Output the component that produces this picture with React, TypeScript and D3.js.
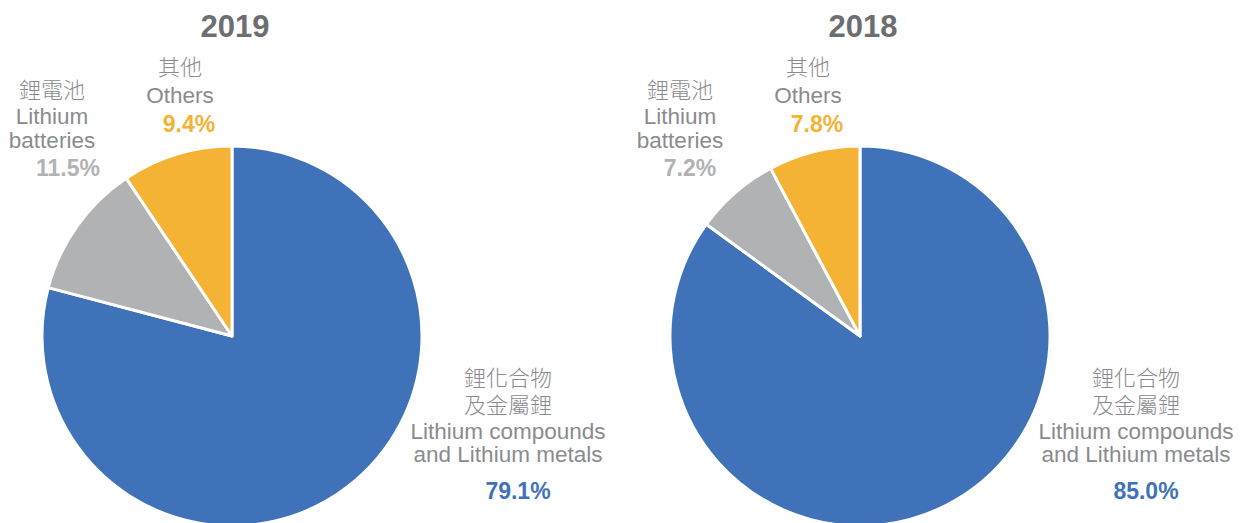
import React from 'react';
import * as d3 from 'd3';

// data
const years = ['2019', '2018'];
const categories = ['compounds', 'batteries', 'others'];
const shares2019 = [79.1, 11.5, 9.4];
const shares2018 = [85.0, 7.2, 7.8];
const labelZh = ['鋰化合物\n及金屬鋰', '鋰電池', '其他'];
const labelEn = ['Lithium compounds\nand Lithium metals', 'Lithium\nbatteries', 'Others'];

const colors = ['#3f72b8', '#b1b2b4', '#f4b335'];
const pctColors = ['#3f72b8', '#b1b2b4', '#f4b335'];
const labelGrey = '#8a8b8e';
const latin = '"Liberation Sans", Arial, Helvetica, sans-serif';
const cjk = '"Noto Sans CJK TC", "Noto Sans CJK SC", sans-serif';

const W = 1241;
const H = 523;
const R = 190;
const centers = [232, 860];
const cy = 336;

// label placement, offsets from each pie centre
const labelPos = [
  { dx: 276, lines: [386, 413, 439, 462], pct: { dx: 286, y: 499 } },
  { dx: -180, lines: [98, 124, 148], pct: { dx: -164, y: 176 } },
  { dx: -52, lines: [75, 103], pct: { dx: -43, y: 132 } },
];

const PieChart = ({ year, values, cx, idx }) => {
  const pie = d3.pie<number>().sort(null).value(d => d);
  const arc = d3.arc<d3.PieArcDatum<number>>().innerRadius(0).outerRadius(R);
  const arcs = pie(values);

  return (
    <g>
      <text x={cx + 3} y={37} textAnchor="middle" fontFamily={latin} fontWeight="bold"
        fontSize={31} fill="#6d6e71">{year}</text>
      <g transform={`translate(${cx},${cy})`}>
        {arcs.map((a, i) => (
          <path key={categories[i]} d={arc(a) || ''} fill={colors[i]}
            stroke="#fff" strokeWidth={3} strokeLinejoin="round" />
        ))}
      </g>
      {categories.map((c, i) => {
        const p = labelPos[i];
        const lines = [
          ...labelZh[i].split('\n').map(t => ({ t, zh: true })),
          ...labelEn[i].split('\n').map(t => ({ t, zh: false })),
        ];
        const pctDx = i === 1 && idx === 1 ? -170 : p.pct.dx;
        return (
          <g key={c}>
            {lines.map((l, j) => (
              <text key={j} x={cx + p.dx} y={p.lines[j]} textAnchor="middle"
                fontFamily={l.zh ? cjk : latin} fontWeight={l.zh ? 300 : 'normal'}
                fontSize={l.zh ? 22 : 22.5} fill={labelGrey}>{l.t}</text>
            ))}
            <text x={cx + pctDx} y={p.pct.y} textAnchor="middle" fontFamily={latin}
              fontWeight="bold" fontSize={23} fill={pctColors[i]}>
              {values[i].toFixed(1)}%
            </text>
          </g>
        );
      })}
    </g>
  );
};

export default function App() {
  const series = [shares2019, shares2018];
  return (
    <svg width={W} height={H} style={{ position: 'absolute', left: 0, top: 0, background: '#fff' }}>
      {years.map((y, i) => (
        <PieChart key={y} year={y} values={series[i]} cx={centers[i]} idx={i} />
      ))}
    </svg>
  );
}
